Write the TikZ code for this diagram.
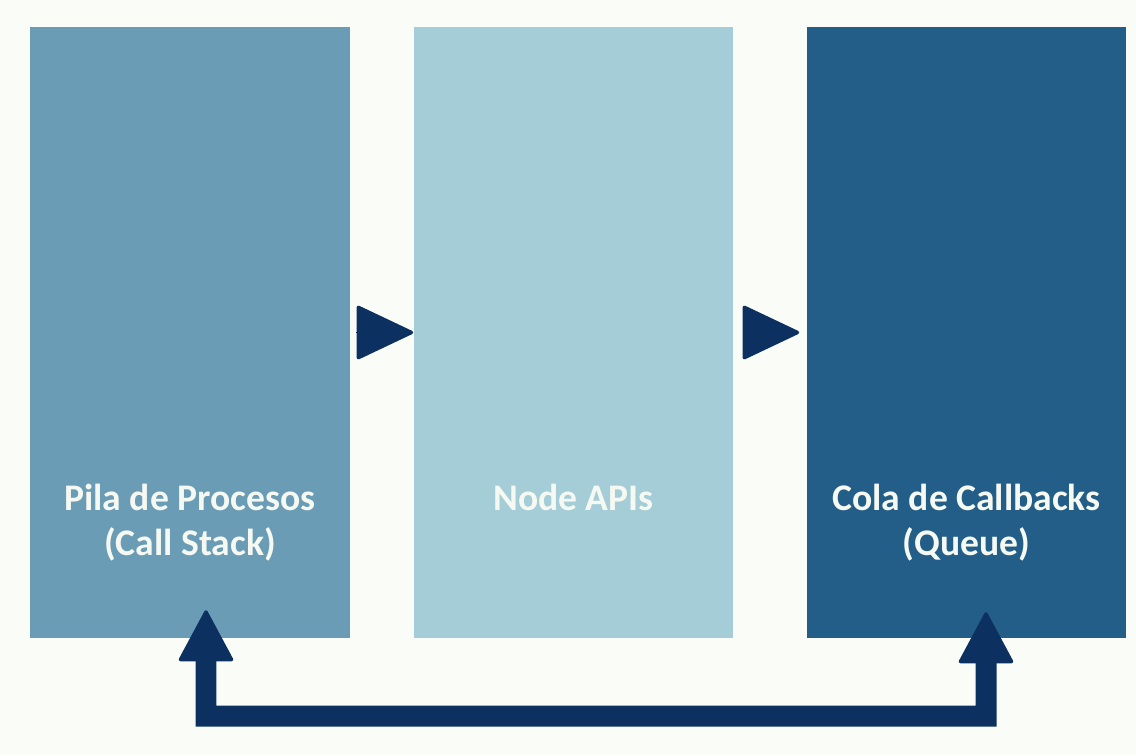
\documentclass[tikz,border=0pt]{standalone}
\usepackage{fontspec}
\setmainfont{Carlito}
\usepackage{xcolor}
\usetikzlibrary{arrows.meta}
\definecolor{loopbg}{HTML}{FAFDF7}
\definecolor{stackblue}{HTML}{6A9CB6}
\definecolor{apiblue}{HTML}{A4CDD7}
\definecolor{queueblue}{HTML}{225E87}
\definecolor{loopink}{HTML}{0C3160}
\definecolor{labelwhite}{HTML}{F6F9F2}

\begin{document}
\begin{tikzpicture}[x=0.02cm,y=0.02cm,
  panel/.style={inner sep=0pt,minimum width=6.4cm,minimum height=12.22cm},
  caption/.style={anchor=north,inner sep=0pt,align=center,text=labelwhite,
    font=\fontsize{21.4}{25.6}\selectfont\bfseries},
  handoff/.style={loopink,line width=0.05pt,
    -{Triangle[length=1.18cm,width=1.1cm,round,line width=2pt]}},
  returnpath/.style={loopink,line width=0.42cm,line join=miter,
    {Triangle[length=1.06cm,width=1.12cm,round,line width=2pt]}-{Triangle[length=1.06cm,width=1.12cm,round,line width=2pt]}}
]
  \fill[loopbg] (0,0) rectangle (1136,755);

  \node[panel,fill=stackblue] (pila) at (190,422.5) {};
  \node[panel,fill=apiblue] (apis) at (573.5,422.5) {};
  \node[panel,fill=queueblue] (cola) at (966.5,422.5) {};

  \node[caption] (pilatext) at (190,271) {Pila de Procesos\\(Call Stack)};
  \node[caption] (apistext) at (573.5,271) {Node APIs};
  \node[caption] (colatext) at (966.5,271) {Cola de Callbacks\\(Queue)};

  \draw[handoff,shorten <=0.12cm] (pila.east) -- (apis.west);
  \draw[handoff,shorten <=0.2cm,shorten >=0.14cm] (apis.east) -- (cola.west);

  % callbacks back to the stack
  \coordinate (floor) at (986,39);
  \draw[returnpath] ([xshift=0.32cm,yshift=0.56cm]pila.south) |- (floor)
    -- ([xshift=0.39cm,yshift=0.52cm]cola.south);
\end{tikzpicture}
\end{document}
